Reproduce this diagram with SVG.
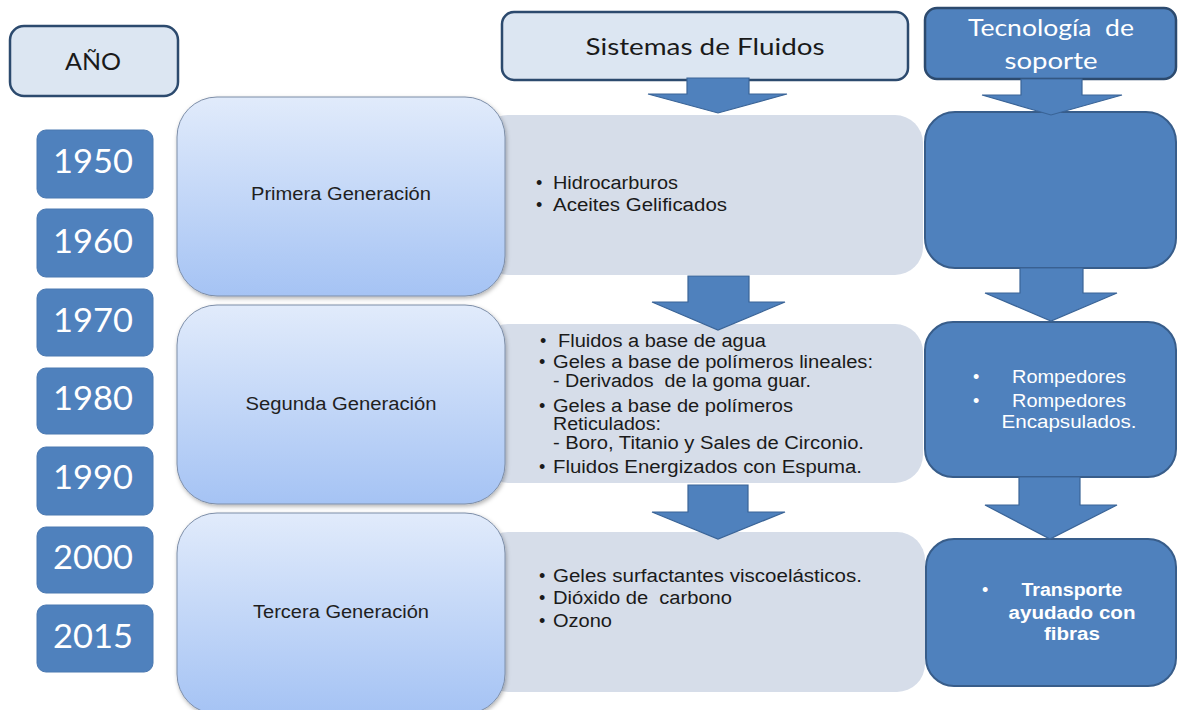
<svg xmlns="http://www.w3.org/2000/svg" width="1179" height="710" viewBox="0 0 1179 710">
<defs>
<linearGradient id="genGrad" x1="0" y1="0" x2="0" y2="1">
<stop offset="0" stop-color="#e1ebfb"/>
<stop offset="1" stop-color="#a5c3f4"/>
</linearGradient>
<filter id="shadow" x="-10%" y="-10%" width="130%" height="130%">
<feDropShadow dx="1" dy="2" stdDeviation="2" flood-color="#000" flood-opacity="0.3"/>
</filter>
</defs>
<style>
.hdrLight{fill:#dce6f2;stroke:#2c4a6e;stroke-width:2.5}
.hdrDark{fill:#4f81bd;stroke:#2c4a6e;stroke-width:2.5}
.year{fill:#4f81bd;stroke:#4a78b0;stroke-width:1}
.gen{fill:url(#genGrad);stroke:#7d8ea8;stroke-width:1;filter:url(#shadow)}
.grey{fill:#d6dde9}
.blue{fill:#4f81bd;stroke:#385d8a;stroke-width:2}
.arrow{fill:#4f81bd;stroke:#3a6497;stroke-width:1.2}
.cal{font-family:Lato,"Open Sans","Liberation Sans",sans-serif}
.yr{font-size:32px;fill:#ffffff;text-anchor:middle}
.hd{font-size:24px;text-anchor:middle}
.body{font-family:"Liberation Sans",Arial,sans-serif;font-size:18px;fill:#1a1a1a}
.lbl{font-family:"Liberation Sans",Arial,sans-serif;font-size:18px;fill:#1f1f1f;text-anchor:middle}
.wt{font-family:"Liberation Sans",Arial,sans-serif;font-size:18px;fill:#ffffff}
.pre{white-space:pre}
</style>

<g id="grey-boxes">
<rect id="fluid1" class="grey" x="480" y="115" width="443" height="160" rx="28"/>
<rect id="fluid2" class="grey" x="480" y="324" width="443" height="159" rx="28"/>
<rect id="fluid3" class="grey" x="480" y="532" width="445" height="160" rx="28"/>
</g>

<g id="anio">
<rect class="hdrLight" x="10" y="26" width="168" height="70" rx="14"/>
<text class="cal hd" x="93" y="70" font-size="23" fill="#1a1a1a" textLength="56" lengthAdjust="spacingAndGlyphs">AÑO</text>
</g>

<g id="sistemas">
<rect class="hdrLight" x="502" y="12" width="406" height="68" rx="12"/>
<text class="cal hd" x="705" y="55" fill="#1a1a1a" textLength="239" lengthAdjust="spacingAndGlyphs">Sistemas de Fluidos</text>
</g>

<g id="tecnologia">
<rect class="hdrDark" x="925" y="8" width="251" height="71" rx="12"/>
<text class="cal hd pre" x="1051" y="36" fill="#ffffff" textLength="166" lengthAdjust="spacingAndGlyphs">Tecnología  de</text>
<text class="cal hd" x="1051" y="69" fill="#ffffff" textLength="93" lengthAdjust="spacingAndGlyphs">soporte</text>
</g>

<g id="y1950"><rect class="year" x="37" y="130" width="116" height="68" rx="9"/><text class="cal yr" x="93" y="173" textLength="80" lengthAdjust="spacingAndGlyphs">1950</text></g>
<g id="y1960"><rect class="year" x="37" y="209" width="116" height="68" rx="9"/><text class="cal yr" x="93" y="253" textLength="80" lengthAdjust="spacingAndGlyphs">1960</text></g>
<g id="y1970"><rect class="year" x="37" y="289" width="116" height="67" rx="9"/><text class="cal yr" x="93" y="332" textLength="80" lengthAdjust="spacingAndGlyphs">1970</text></g>
<g id="y1980"><rect class="year" x="37" y="368" width="116" height="66" rx="9"/><text class="cal yr" x="93" y="410" textLength="80" lengthAdjust="spacingAndGlyphs">1980</text></g>
<g id="y1990"><rect class="year" x="37" y="447" width="116" height="68" rx="9"/><text class="cal yr" x="93" y="489" textLength="80" lengthAdjust="spacingAndGlyphs">1990</text></g>
<g id="y2000"><rect class="year" x="37" y="527" width="116" height="66" rx="9"/><text class="cal yr" x="93" y="569" textLength="80" lengthAdjust="spacingAndGlyphs">2000</text></g>
<g id="y2015"><rect class="year" x="37" y="605" width="116" height="67" rx="9"/><text class="cal yr" x="93" y="648" textLength="80" lengthAdjust="spacingAndGlyphs">2015</text></g>

<g id="gen1">
<rect class="gen" x="177" y="97" width="328" height="199" rx="40"/>
<text class="lbl" x="341" y="200" textLength="180" lengthAdjust="spacingAndGlyphs">Primera Generación</text>
</g>
<g id="gen2">
<rect class="gen" x="177" y="305" width="328" height="199" rx="40"/>
<text class="lbl" x="341" y="410" textLength="191" lengthAdjust="spacingAndGlyphs">Segunda Generación</text>
</g>
<g id="gen3">
<rect class="gen" x="177" y="513" width="328" height="201" rx="40"/>
<text class="lbl" x="341" y="618" textLength="176" lengthAdjust="spacingAndGlyphs">Tercera Generación</text>
</g>

<g id="fluid1-text" class="body">
<text x="536" y="189">•</text><text x="553" y="189" textLength="125" lengthAdjust="spacingAndGlyphs">Hidrocarburos</text>
<text x="536" y="211">•</text><text x="553" y="211" textLength="174" lengthAdjust="spacingAndGlyphs">Aceites Gelificados</text>
</g>

<g id="fluid2-text" class="body">
<text x="540" y="347">•</text><text x="558" y="347" textLength="208" lengthAdjust="spacingAndGlyphs">Fluidos a base de agua</text>
<text x="539" y="368">•</text><text x="553" y="368" textLength="320" lengthAdjust="spacingAndGlyphs">Geles a base de polímeros lineales:</text>
<text class="pre" x="553" y="387" textLength="258" lengthAdjust="spacingAndGlyphs">- Derivados  de la goma guar.</text>
<text x="539" y="412">•</text><text x="553" y="412" textLength="240" lengthAdjust="spacingAndGlyphs">Geles a base de polímeros</text>
<text x="553" y="430" textLength="108" lengthAdjust="spacingAndGlyphs">Reticulados:</text>
<text x="553" y="449" textLength="311" lengthAdjust="spacingAndGlyphs">- Boro, Titanio y Sales de Circonio.</text>
<text x="539" y="473">•</text><text x="553" y="473" textLength="309" lengthAdjust="spacingAndGlyphs">Fluidos Energizados con Espuma.</text>
</g>

<g id="fluid3-text" class="body">
<text x="539" y="582">•</text><text x="553" y="582" textLength="309" lengthAdjust="spacingAndGlyphs">Geles surfactantes viscoelásticos.</text>
<text x="539" y="604">•</text><text class="pre" x="553" y="604" textLength="179" lengthAdjust="spacingAndGlyphs">Dióxido de  carbono</text>
<text x="539" y="627">•</text><text x="553" y="627" textLength="59" lengthAdjust="spacingAndGlyphs">Ozono</text>
</g>

<g id="tec1">
<rect class="blue" x="925" y="112" width="251" height="156" rx="30"/>
</g>
<g id="tec2">
<rect class="blue" x="925" y="322" width="251" height="155" rx="28"/>
<text class="wt" x="973" y="383">•</text><text class="wt" x="1069" y="383" text-anchor="middle" textLength="114" lengthAdjust="spacingAndGlyphs">Rompedores</text>
<text class="wt" x="973" y="407">•</text><text class="wt" x="1069" y="407" text-anchor="middle" textLength="114" lengthAdjust="spacingAndGlyphs">Rompedores</text>
<text class="wt" x="1069" y="428" text-anchor="middle" textLength="135" lengthAdjust="spacingAndGlyphs">Encapsulados.</text>
</g>
<g id="tec3">
<rect class="blue" x="926" y="539" width="250" height="147" rx="28"/>
<text class="wt" x="982" y="596">•</text>
<text class="wt" x="1072" y="596" text-anchor="middle" font-weight="bold" textLength="101" lengthAdjust="spacingAndGlyphs">Transporte</text>
<text class="wt" x="1072" y="619" text-anchor="middle" font-weight="bold" textLength="127" lengthAdjust="spacingAndGlyphs">ayudado con</text>
<text class="wt" x="1072" y="640" text-anchor="middle" font-weight="bold" textLength="56" lengthAdjust="spacingAndGlyphs">fibras</text>
</g>

<g id="connectors">
<polygon class="arrow" points="687,78 749,78 749,94 787,94 718,113 648,94 687,94"/>
<polygon class="arrow" points="1021,79 1082,79 1082,95 1122,95 1051,115 982,95 1021,95"/>
<polygon class="arrow" points="688,276 749,276 749,302 785,302 718,330 652,302 688,302"/>
<polygon class="arrow" points="1020,268 1083,268 1083,293 1117,293 1051,321 985,293 1020,293"/>
<polygon class="arrow" points="688,485 748,485 748,512 785,512 718,539 652,512 688,512"/>
<polygon class="arrow" points="1019,477 1080,477 1080,505 1117,505 1050,539 985,505 1019,505"/>
</g>
</svg>
